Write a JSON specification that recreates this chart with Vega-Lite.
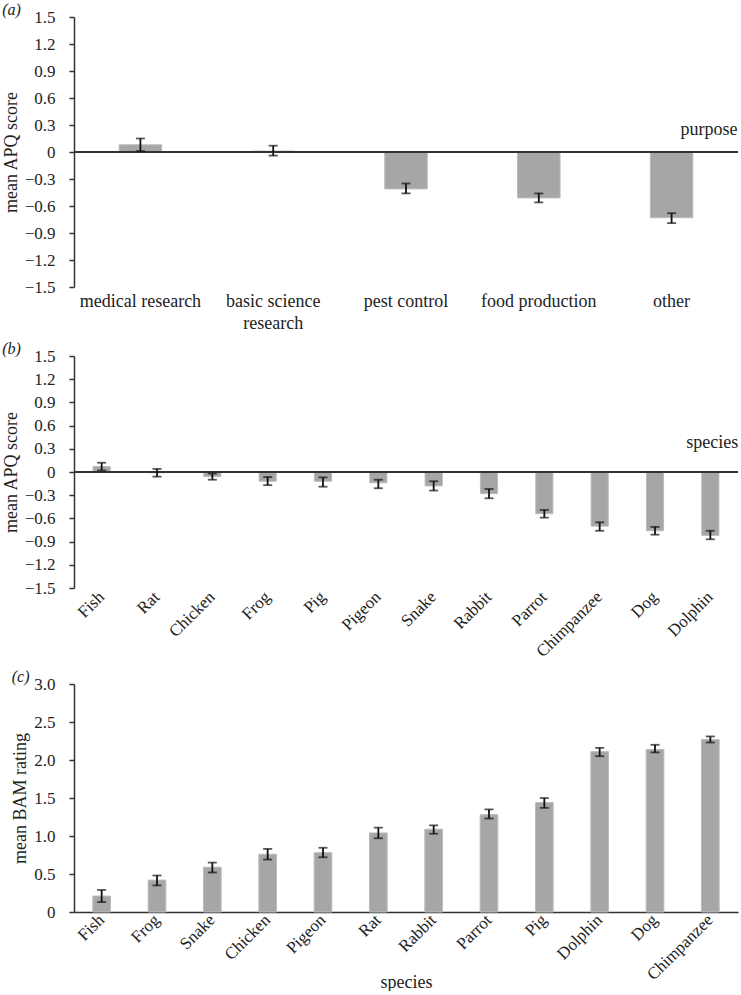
{
  "$schema": "https://vega.github.io/schema/vega-lite/v6.json",
  "padding": {"left": 2, "top": 2, "right": 5, "bottom": 0},
  "background": "white",
  "config": {
    "font": "Liberation Serif, Times New Roman, serif",
    "view": {"stroke": null},
    "axis": {"labelFont": "Liberation Serif, Times New Roman, serif", "titleFont": "Liberation Serif, Times New Roman, serif", "labelColor": "#222", "titleColor": "#222", "grid": false, "titleFontWeight": "normal", "labelOverlap": false},
    "text": {"font": "Liberation Serif, Times New Roman, serif"},
    "title": {"font": "Liberation Serif, Times New Roman, serif", "fontWeight": "normal", "fontStyle": "italic", "fontSize": 16, "color": "#222", "anchor": "start", "frame": "bounds", "offset": 0}
  },
  "spacing": 9,
  "datasets": {
    "purpose": [
      {"purpose": "medical research", "mean": 0.08, "lo": 0.01, "hi": 0.15},
      {"purpose": "basic science research", "mean": 0.01, "lo": -0.04, "hi": 0.07},
      {"purpose": "pest control", "mean": -0.41, "lo": -0.46, "hi": -0.35},
      {"purpose": "food production", "mean": -0.51, "lo": -0.56, "hi": -0.46},
      {"purpose": "other", "mean": -0.73, "lo": -0.79, "hi": -0.68}
    ],
    "apq": [
      {"species": "Fish", "mean": 0.07, "lo": 0.02, "hi": 0.12},
      {"species": "Rat", "mean": -0.01, "lo": -0.06, "hi": 0.04},
      {"species": "Chicken", "mean": -0.06, "lo": -0.1, "hi": -0.02},
      {"species": "Frog", "mean": -0.12, "lo": -0.17, "hi": -0.065},
      {"species": "Pig", "mean": -0.12, "lo": -0.19, "hi": -0.07},
      {"species": "Pigeon", "mean": -0.14, "lo": -0.21, "hi": -0.1},
      {"species": "Snake", "mean": -0.18, "lo": -0.24, "hi": -0.12},
      {"species": "Rabbit", "mean": -0.28, "lo": -0.34, "hi": -0.22},
      {"species": "Parrot", "mean": -0.54, "lo": -0.59, "hi": -0.49},
      {"species": "Chimpanzee", "mean": -0.7, "lo": -0.76, "hi": -0.65},
      {"species": "Dog", "mean": -0.76, "lo": -0.81, "hi": -0.71},
      {"species": "Dolphin", "mean": -0.82, "lo": -0.87, "hi": -0.76}
    ],
    "bam": [
      {"species": "Fish", "mean": 0.21, "lo": 0.13, "hi": 0.29},
      {"species": "Frog", "mean": 0.42, "lo": 0.35, "hi": 0.48},
      {"species": "Snake", "mean": 0.59, "lo": 0.52, "hi": 0.65},
      {"species": "Chicken", "mean": 0.76, "lo": 0.69, "hi": 0.83},
      {"species": "Pigeon", "mean": 0.78, "lo": 0.72, "hi": 0.845},
      {"species": "Rat", "mean": 1.04, "lo": 0.97, "hi": 1.11},
      {"species": "Rabbit", "mean": 1.09, "lo": 1.03, "hi": 1.14},
      {"species": "Parrot", "mean": 1.28, "lo": 1.23, "hi": 1.35},
      {"species": "Pig", "mean": 1.44, "lo": 1.37, "hi": 1.5},
      {"species": "Dolphin", "mean": 2.11, "lo": 2.05, "hi": 2.16},
      {"species": "Dog", "mean": 2.14, "lo": 2.1, "hi": 2.2},
      {"species": "Chimpanzee", "mean": 2.27, "lo": 2.23, "hi": 2.31}
    ]
  },
  "vconcat": [
    {
      "width": 664, "height": 270,
      "title": {"text": "(a)", "dy": 14},
      "data": {"name": "purpose"},
      "layer": [
        {
          "mark": {"type": "bar", "color": "#a6a6a6", "stroke": "#bcbcbc", "strokeWidth": 1},
          "encoding": {
            "x": {"field": "purpose", "type": "nominal", "sort": null, "scale": {"paddingInner": 0.68, "paddingOuter": 0.34},
              "axis": {"title": null, "domain": false, "ticks": false, "labelAngle": 0, "labelFontSize": 18, "labelPadding": 5, "labelLimit": 0, "labelLineHeight": 22, "labelOverlap": false,
                "labelExpr": "datum.label == 'basic science research' ? ['basic science', 'research'] : datum.label"}},
            "y": {"field": "mean", "type": "quantitative", "scale": {"domain": [-1.5, 1.5], "nice": false, "zero": false},
              "axis": {"title": "mean APQ score", "titleFontSize": 18, "titlePadding": 4, "labelFontSize": 17, "labelPadding": 14, "labelOverlap": false, "tickCount": 11,
                "values": [-1.5, -1.2, -0.9, -0.6, -0.3, 0, 0.3, 0.6, 0.9, 1.2, 1.5],
                "labelExpr": "datum.value == 0 ? '0' : format(datum.value, '.1f')",
                "domainColor": "#333", "domainWidth": 1.5, "tickColor": "#333", "tickWidth": 1.5, "tickSize": 5}}
          }
        },
        {"mark": {"type": "rule", "color": "#333", "strokeWidth": 1.5}, "encoding": {"y": {"datum": 0, "type": "quantitative"}}},
        {"mark": {"type": "rule", "color": "#111", "strokeWidth": 1.8},
          "encoding": {"x": {"field": "purpose", "type": "nominal", "sort": null}, "y": {"field": "lo", "type": "quantitative"}, "y2": {"field": "hi"}}},
        {"mark": {"type": "tick", "color": "#111", "thickness": 1.8, "size": 9},
          "encoding": {"x": {"field": "purpose", "type": "nominal", "sort": null}, "y": {"field": "lo", "type": "quantitative"}}},
        {"mark": {"type": "tick", "color": "#111", "thickness": 1.8, "size": 9},
          "encoding": {"x": {"field": "purpose", "type": "nominal", "sort": null}, "y": {"field": "hi", "type": "quantitative"}}},
        {"data": {"values": [{"label": "purpose"}]},
          "mark": {"type": "text", "align": "right", "baseline": "middle", "fontSize": 18, "dx": 66, "color": "#222"},
          "encoding": {"text": {"field": "label"}, "x": {"datum": "other", "type": "nominal"}, "y": {"datum": 0.24, "type": "quantitative"}}}
      ]
    },
    {
      "width": 664, "height": 232,
      "title": {"text": "(b)", "dy": 14},
      "data": {"name": "apq"},
      "layer": [
        {
          "mark": {"type": "bar", "color": "#a6a6a6", "stroke": "#bcbcbc", "strokeWidth": 1},
          "encoding": {
            "x": {"field": "species", "type": "nominal", "sort": null, "scale": {"paddingInner": 0.69, "paddingOuter": 0.345},
              "axis": {"title": null, "domain": false, "ticks": false, "labelAngle": -45, "labelAlign": "right", "labelBaseline": "middle", "labelFontSize": 17, "labelPadding": 6, "labelLimit": 0, "labelOverlap": false}},
            "y": {"field": "mean", "type": "quantitative", "scale": {"domain": [-1.5, 1.5], "nice": false, "zero": false},
              "axis": {"title": "mean APQ score", "titleFontSize": 18, "titlePadding": 4, "labelFontSize": 17, "labelPadding": 14, "labelOverlap": false, "tickCount": 11,
                "values": [-1.5, -1.2, -0.9, -0.6, -0.3, 0, 0.3, 0.6, 0.9, 1.2, 1.5],
                "labelExpr": "datum.value == 0 ? '0' : format(datum.value, '.1f')",
                "domainColor": "#333", "domainWidth": 1.5, "tickColor": "#333", "tickWidth": 1.5, "tickSize": 5}}
          }
        },
        {"mark": {"type": "rule", "color": "#333", "strokeWidth": 1.5}, "encoding": {"y": {"datum": 0, "type": "quantitative"}}},
        {"mark": {"type": "rule", "color": "#111", "strokeWidth": 1.8},
          "encoding": {"x": {"field": "species", "type": "nominal", "sort": null}, "y": {"field": "lo", "type": "quantitative"}, "y2": {"field": "hi"}}},
        {"mark": {"type": "tick", "color": "#111", "thickness": 1.8, "size": 9},
          "encoding": {"x": {"field": "species", "type": "nominal", "sort": null}, "y": {"field": "lo", "type": "quantitative"}}},
        {"mark": {"type": "tick", "color": "#111", "thickness": 1.8, "size": 9},
          "encoding": {"x": {"field": "species", "type": "nominal", "sort": null}, "y": {"field": "hi", "type": "quantitative"}}},
        {"data": {"values": [{"label": "species"}]},
          "mark": {"type": "text", "align": "right", "baseline": "middle", "fontSize": 18, "dx": 28, "color": "#222"},
          "encoding": {"text": {"field": "label"}, "x": {"datum": "Dolphin", "type": "nominal"}, "y": {"datum": 0.37, "type": "quantitative"}}}
      ]
    },
    {
      "width": 664, "height": 228,
      "title": {"text": "(c)", "dy": 14},
      "data": {"name": "bam"},
      "layer": [
        {
          "mark": {"type": "bar", "color": "#a6a6a6", "stroke": "#bcbcbc", "strokeWidth": 1},
          "encoding": {
            "x": {"field": "species", "type": "nominal", "sort": null, "scale": {"paddingInner": 0.68, "paddingOuter": 0.34},
              "axis": {"title": "species", "titleFontSize": 18, "titleFontWeight": "normal", "titleY": 61, "titleBaseline": "top", "domain": true, "domainColor": "#333", "domainWidth": 1.5, "ticks": false, "labelAngle": -45, "labelAlign": "right", "labelBaseline": "middle", "labelFontSize": 17, "labelPadding": 5, "labelLimit": 0, "labelOverlap": false}},
            "y": {"field": "mean", "type": "quantitative", "scale": {"domain": [0, 3], "nice": false},
              "axis": {"title": "mean BAM rating", "titleFontSize": 18, "titlePadding": 4, "labelFontSize": 17, "labelPadding": 14, "labelOverlap": false, "tickCount": 7,
                "values": [0, 0.5, 1, 1.5, 2, 2.5, 3],
                "labelExpr": "datum.value == 0 ? '0' : format(datum.value, '.1f')",
                "domainColor": "#333", "domainWidth": 1.5, "tickColor": "#333", "tickWidth": 1.5, "tickSize": 5}}
          }
        },
        {"mark": {"type": "rule", "color": "#111", "strokeWidth": 1.8},
          "encoding": {"x": {"field": "species", "type": "nominal", "sort": null}, "y": {"field": "lo", "type": "quantitative"}, "y2": {"field": "hi"}}},
        {"mark": {"type": "tick", "color": "#111", "thickness": 1.8, "size": 9},
          "encoding": {"x": {"field": "species", "type": "nominal", "sort": null}, "y": {"field": "lo", "type": "quantitative"}}},
        {"mark": {"type": "tick", "color": "#111", "thickness": 1.8, "size": 9},
          "encoding": {"x": {"field": "species", "type": "nominal", "sort": null}, "y": {"field": "hi", "type": "quantitative"}}}
      ]
    }
  ]
}
